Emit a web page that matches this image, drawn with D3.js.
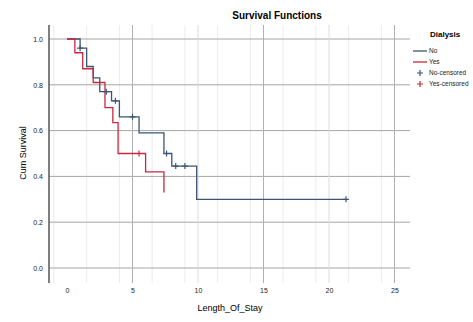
<!DOCTYPE html>
<html>
<head>
<meta charset="utf-8">
<script src="https://cdn.jsdelivr.net/npm/d3@7"></script>
<style>
  body { margin: 0; background: #ffffff; }
  svg { font-family: "Liberation Sans", Arial, sans-serif; }
</style>
</head>
<body>
<div id="km-plot"></div>
<script>
// Kaplan-Meier estimates
const timesNo = [0, 1.0, 1.5, 2.0, 2.5, 3.4, 4.0, 5.5, 7.4, 8.0, 9.9];
const survNo  = [1.0, 0.96, 0.88, 0.83, 0.77, 0.73, 0.66, 0.59, 0.50, 0.445, 0.30];
const lastNo = 21.3;
const censTimesNo = [1.0, 3.0, 3.7, 5.0, 7.6, 8.3, 9.0, 21.3];
const censSurvNo  = [0.96, 0.77, 0.73, 0.66, 0.50, 0.445, 0.445, 0.30];

const timesYes = [0, 0.6, 1.2, 2.0, 2.9, 3.5, 3.9, 6.0, 7.4];
const survYes  = [1.0, 0.94, 0.87, 0.81, 0.70, 0.635, 0.50, 0.42, 0.33];
const censTimesYes = [5.5];
const censSurvYes  = [0.50];

const xTicks = [0, 5, 10, 15, 20, 25];
const yTicks = [0, 0.2, 0.4, 0.6, 0.8, 1.0];
const legendLabels = ["No", "Yes", "No-censored", "Yes-censored"];

const width = 473, height = 322;
const colNo = "#3b5672", colYes = "#c8283f";

const svg = d3.select("#km-plot").append("svg")
  .attr("width", width)
  .attr("height", height);

const plotLeft = 49, plotRight = 410, plotTop = 25, plotBottom = 283;

const xScale = d3.scaleLinear().domain([0, 25]).range([67, 394.5]);
const yScale = d3.scaleLinear().domain([0, 1]).range([268, 39]);

// minor grid
const minorX = d3.range(-1, 26, 2.5).filter(v => xScale(v) > plotLeft && xScale(v) < plotRight);
svg.append("g").selectAll("line")
  .data(minorX).enter().append("line")
  .attr("x1", d => xScale(d)).attr("x2", d => xScale(d))
  .attr("y1", plotTop).attr("y2", plotBottom)
  .attr("stroke", "#ececec").attr("stroke-width", 1);

// major grid
svg.append("g").selectAll("line")
  .data(yTicks).enter().append("line")
  .attr("x1", plotLeft).attr("x2", plotRight)
  .attr("y1", d => yScale(d)).attr("y2", d => yScale(d))
  .attr("stroke", "#a6a6a6").attr("stroke-width", 1);

svg.append("g").selectAll("line")
  .data(xTicks.slice(1)).enter().append("line")
  .attr("x1", d => xScale(d)).attr("x2", d => xScale(d))
  .attr("y1", plotTop).attr("y2", plotBottom)
  .attr("stroke", d => d % 10 === 0 ? "#dcdcdc" : "#b0b0b0")
  .attr("stroke-width", 1);

// axes
const xAxis = svg.append("g")
  .attr("transform", "translate(0," + plotBottom + ")")
  .call(d3.axisBottom(xScale).tickValues(xTicks).tickSize(0).tickPadding(5));
xAxis.select(".domain").remove();
xAxis.selectAll("text").style("font-size", "7px").style("fill", "#222");

const yAxis = svg.append("g")
  .attr("transform", "translate(" + (plotLeft - 4) + ",0)")
  .call(d3.axisLeft(yScale).tickValues(yTicks).tickFormat(d3.format(".1f")).tickSize(0).tickPadding(2));
yAxis.select(".domain").remove();
yAxis.selectAll("text").style("font-size", "7px").style("fill", "#222");

svg.append("line")
  .attr("x1", plotLeft).attr("x2", plotLeft)
  .attr("y1", plotTop).attr("y2", plotBottom)
  .attr("stroke", "#555").attr("stroke-width", 1.5);

// labels
svg.append("text")
  .attr("x", 277).attr("y", 19)
  .attr("text-anchor", "middle")
  .style("font-size", "10px").style("font-weight", "bold")
  .text("Survival Functions");

svg.append("text")
  .attr("x", 230).attr("y", 311)
  .attr("text-anchor", "middle")
  .style("font-size", "9px")
  .text("Length_Of_Stay");

svg.append("text")
  .attr("transform", "translate(26,153) rotate(-90)")
  .attr("text-anchor", "middle")
  .style("font-size", "9px")
  .text("Cum Survival");

// step curves
const step = d3.line()
  .x(d => xScale(d[0]))
  .y(d => yScale(d[1]))
  .curve(d3.curveStepAfter);

const ptsNo = timesNo.map((t, i) => [t, survNo[i]]);
ptsNo.push([lastNo, survNo[survNo.length - 1]]);
const ptsYes = timesYes.map((t, i) => [t, survYes[i]]);

svg.append("path").datum(ptsNo)
  .attr("fill", "none").attr("stroke", colNo).attr("stroke-width", 1.3)
  .attr("d", step);

svg.append("path").datum(ptsYes)
  .attr("fill", "none").attr("stroke", colYes).attr("stroke-width", 1.3)
  .attr("d", step);

// censor marks
function plus(g, times, surv, col) {
  const pts = times.map((t, i) => [t, surv[i]]);
  g.selectAll("path.cens").data(pts).enter().append("path")
    .attr("class", "cens")
    .attr("d", d => {
      const x = xScale(d[0]), y = yScale(d[1]);
      return "M" + (x - 3) + "," + y + "H" + (x + 3) + "M" + x + "," + (y - 3) + "V" + (y + 3);
    })
    .attr("stroke", col).attr("stroke-width", 1.2).attr("fill", "none");
}
plus(svg.append("g"), censTimesNo, censSurvNo, colNo);
plus(svg.append("g"), censTimesYes, censSurvYes, colYes);

// legend
const legend = svg.append("g").attr("transform", "translate(413,0)");
legend.append("text")
  .attr("x", 17).attr("y", 37)
  .style("font-size", "8px").style("font-weight", "bold")
  .text("Dialysis");

const legendCols = [colNo, colYes, colNo, colYes];
const legendY = [51, 62, 73, 84];
legendLabels.forEach((lab, i) => {
  const item = legend.append("g").attr("transform", "translate(0," + legendY[i] + ")");
  if (i < 2) {
    item.append("line")
      .attr("x1", 0).attr("x2", 14).attr("y1", 0).attr("y2", 0)
      .attr("stroke", legendCols[i]).attr("stroke-width", 1.3);
  } else {
    item.append("path")
      .attr("d", "M4,0H10M7,-3V3")
      .attr("stroke", legendCols[i]).attr("stroke-width", 1.2);
  }
  item.append("text")
    .attr("x", 16).attr("y", 2.3)
    .style("font-size", "6.5px").style("fill", "#222")
    .text(lab);
});
</script>
</body>
</html>
